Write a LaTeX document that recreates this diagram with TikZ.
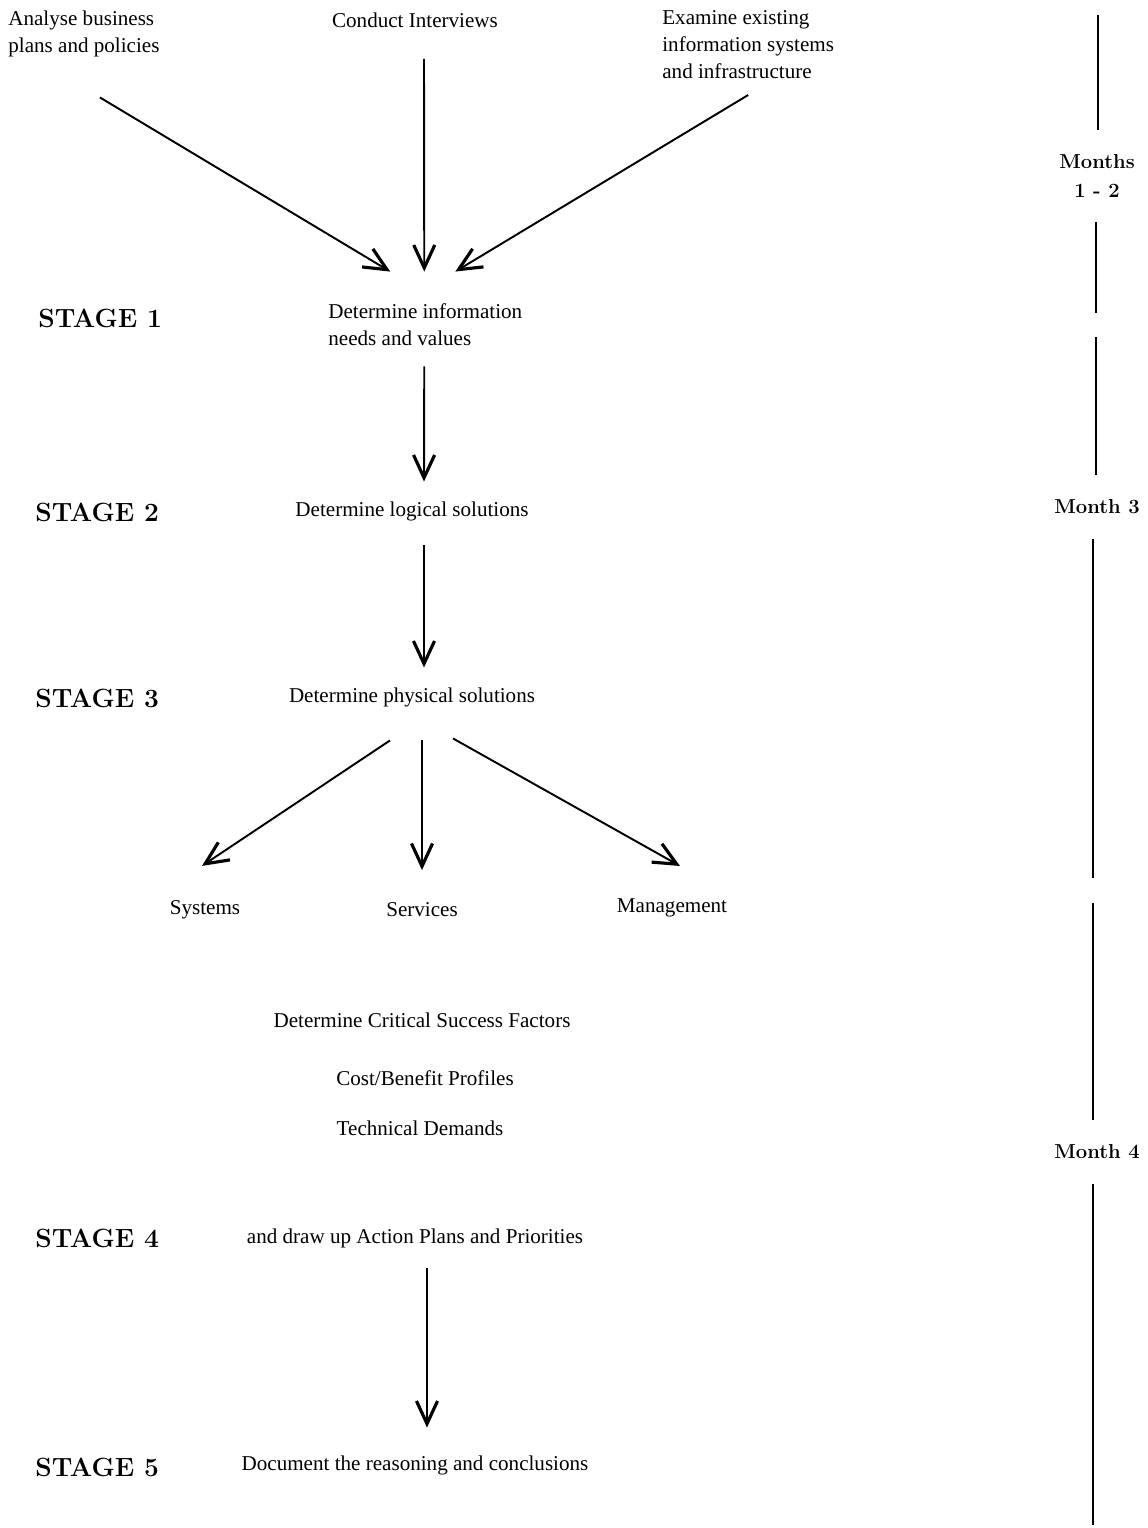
\documentclass[tikz,border=0pt]{standalone}
\usepackage{fontspec}
\newfontfamily\bodyfont{Liberation Serif}
\usetikzlibrary{arrows.meta}
\tikzset{
  txt/.style={font={\bodyfont\fontsize{12}{15.4}\selectfont}, inner sep=0pt},
  stagelbl/.style={font={\fontsize{15}{17}\selectfont\bfseries}, inner sep=0pt, anchor=west},
  monthlbl/.style={font={\fontsize{11.5}{16}\selectfont\bfseries}, inner xsep=0pt, inner ysep=0.5cm, align=center},
  arr/.style={line width=1.1pt, -{Straight Barb[length=13pt,width=12pt,line width=1.8pt]}},
  tline/.style={line width=1.5pt},
}
\begin{document}
\begin{tikzpicture}
\useasboundingbox (0,0) rectangle (22.94,-30.56);
%inputs
\node[txt, align=left, anchor=west] (analyse) at (0.16,-0.68) {Analyse business\\plans and policies};
\node[txt] (interviews) at (8.3,-0.4) {Conduct Interviews};
\node[txt, align=left, anchor=west] (examine) at (13.24,-0.9) {Examine existing\\information systems\\and infrastructure};
%stages
\node[stagelbl] (stage1) at (0.76,-6.36) {STAGE 1};
\node[stagelbl] (stage2) at (0.7,-10.24) {STAGE 2};
\node[stagelbl] (stage3) at (0.7,-13.96) {STAGE 3};
\node[stagelbl] (stage4) at (0.7,-24.76) {STAGE 4};
\node[stagelbl] (stage5) at (0.7,-29.34) {STAGE 5};
\node[txt, align=left, anchor=west] (needs) at (6.56,-6.49) {Determine information\\needs and values};
\node[txt] (logical) at (8.24,-10.22) {Determine logical solutions};
\node[txt] (physical) at (8.24,-13.94) {Determine physical solutions};
\node[txt] (systems) at (4.1,-18.2) {Systems};
\node[txt] (services) at (8.44,-18.2) {Services};
\node[txt] (management) at (13.44,-18.16) {Management};
\node[txt] (csf) at (8.44,-20.4) {Determine Critical Success Factors};
\node[txt] (costben) at (8.5,-21.56) {Cost/Benefit Profiles};
\node[txt] (techdem) at (8.4,-22.56) {Technical Demands};
\node[txt] (action) at (8.3,-24.76) {and draw up Action Plans and Priorities};
\node[txt] (document) at (8.3,-29.3) {Document the reasoning and conclusions};
%arrows
\draw[arr] ([shift={(0.32,-0.8)}]analyse.south) -- ([shift={(-0.7,0.63)}]needs.north);
\draw[arr] ([shift={(0.18,-0.62)}]interviews.south) -- ([shift={(-0.02,0.63)}]needs.north);
\draw[arr] ([shift={(0,-0.31)}]examine.south) -- ([shift={(0.6,0.63)}]needs.north);
\draw[arr] ([shift={(-0.02,-0.41)}]needs.south) -- ([shift={(0.24,0.39)}]logical.north);
\draw[arr] ([shift={(0.24,-0.49)}]logical.south) -- ([shift={(0.24,0.39)}]physical.north);
\draw[arr] ([shift={(-0.44,-0.67)}]physical.south) -- ([shift={(-0.06,0.69)}]systems.north);
\draw[arr] ([shift={(0.2,-0.67)}]physical.south) -- ([shift={(0,0.65)}]services.north);
\draw[arr] ([shift={(0.82,-0.63)}]physical.south) -- ([shift={(0.16,0.65)}]management.north);
\draw[arr] ([shift={(0.24,-0.41)}]action.south) -- ([shift={(0.24,0.55)}]document.north);
%time line
\node[monthlbl] (months) at (21.94,-3.52) {Months\\1 - 2};
\node[monthlbl] (month3) at (21.94,-10.14) {Month 3};
\node[monthlbl] (month4) at (21.94,-23.04) {Month 4};
\coordinate (t0) at (21.96,-0.3);
\coordinate (t2e) at (21.92,-6.26);
\coordinate (t3s) at (21.92,-6.74);
\coordinate (t4e) at (21.86,-17.56);
\coordinate (t5s) at (21.86,-18.06);
\coordinate (t6e) at (21.86,-30.5);
\draw[tline] (t0) -- (t0 |- months.north);
\draw[tline] (t2e |- months.south) -- (t2e);
\draw[tline] (t3s) -- (t3s |- month3.north);
\draw[tline] (t4e |- month3.south) -- (t4e);
\draw[tline] (t5s) -- (t5s |- month4.north);
\draw[tline] (t6e |- month4.south) -- (t6e);
\end{tikzpicture}
\end{document}
